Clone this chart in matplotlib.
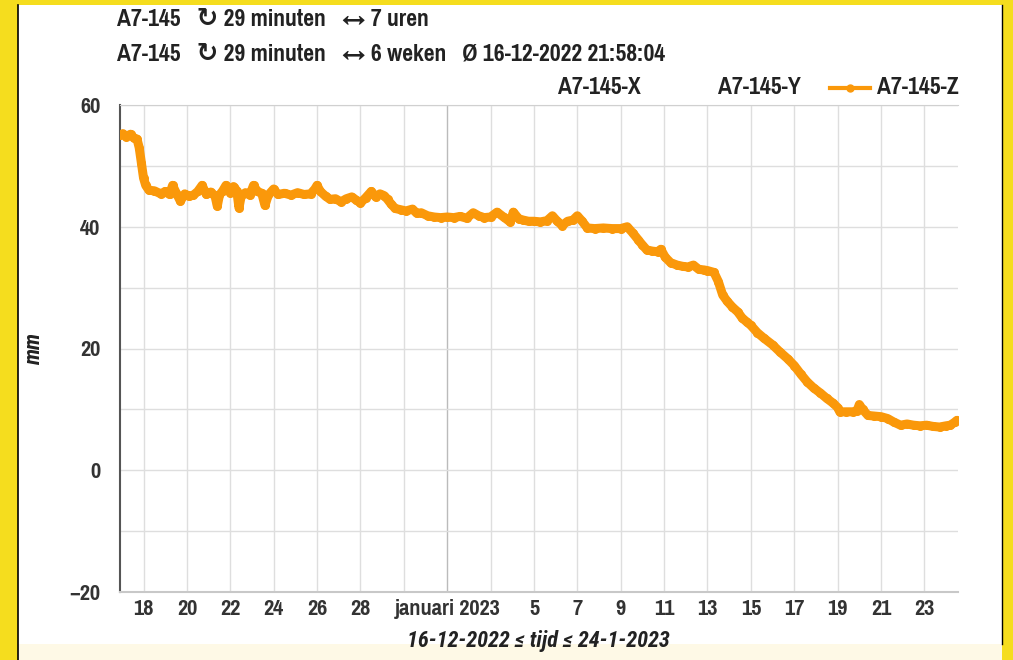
import matplotlib
matplotlib.use("Agg")
import matplotlib.pyplot as plt
from matplotlib.lines import Line2D
from matplotlib.patches import Rectangle

# ---- data: days since 2022-12-16 00:00, displacement in mm ----
days = [0.92, 1.05, 1.2, 1.4, 1.55, 1.7, 1.8, 1.9, 2.0, 2.1, 2.25, 2.5, 2.8, 3.0, 3.2, 3.34,
        3.5, 3.7, 3.9, 4.1, 4.3, 4.5, 4.7, 4.9, 5.1, 5.3, 5.4, 5.5, 5.65, 5.8, 6.0, 6.15,
        6.3, 6.4, 6.5, 6.7, 6.9, 7.07, 7.25, 7.45, 7.6, 7.75, 8.0, 8.2, 8.5, 8.8, 9.1, 9.4,
        9.7, 9.9, 10.0, 10.15, 10.4, 10.6, 10.85, 11.1, 11.35, 11.6, 11.8, 12.0, 12.25, 12.5,
        12.7, 12.9, 13.1, 13.25, 13.4, 13.6, 13.85, 14.1, 14.4, 14.6, 14.8, 15.1, 15.4, 15.7,
        16.0, 16.3, 16.6, 16.9, 17.2, 17.45, 17.7, 18.0, 18.3, 18.6, 18.9, 19.05, 19.3, 19.5,
        19.75, 20.0, 20.3, 20.6, 20.85, 21.05, 21.3, 21.55, 21.8, 22.0, 22.2, 22.46, 22.8, 23.2,
        23.6, 24.0, 24.3, 24.55, 24.8, 25.0, 25.2, 25.45, 25.7, 25.85, 26.05, 26.3, 26.6, 26.85,
        27.1, 27.35, 27.6, 27.85, 28.0, 28.3, 28.5, 28.7, 28.9, 29.15, 29.4, 29.6, 29.8, 30.0,
        30.3, 30.6, 31.0, 31.35, 31.7, 32.0, 32.3, 32.6, 32.9, 33.2, 33.5, 33.8, 34.0, 34.1,
        34.4, 34.7, 34.9, 35.0, 35.15, 35.4, 35.7, 36.0, 36.3, 36.6, 36.9, 37.2, 37.5, 37.8,
        38.1, 38.4, 38.7, 39.0, 39.2, 39.4, 39.5]
z_mm = [55.0, 55.3, 54.8, 55.2, 54.6, 54.4, 53.0, 50.5, 48.0, 46.8, 46.0, 45.9, 45.4, 45.8, 45.3, 46.8,
        45.6, 44.2, 45.4, 45.0, 45.2, 45.8, 46.8, 45.3, 45.7, 45.0, 43.4, 45.2, 45.9, 46.8, 45.6, 46.6,
        45.9, 43.1, 45.0, 45.6, 45.2, 46.8, 45.8, 45.5, 43.5, 45.2, 46.2, 45.3, 45.5, 45.2, 45.6, 45.3,
        45.4, 46.2, 46.8, 45.8, 45.0, 44.5, 44.6, 44.1, 44.6, 44.9, 44.4, 43.9, 44.8, 45.8,
        44.9, 45.4, 45.1, 44.5, 43.8, 43.0, 42.8, 42.6, 42.9, 42.2, 42.3, 41.8, 41.6, 41.5,
        41.6, 41.5, 41.7, 41.4, 42.3, 41.8, 41.5, 41.6, 42.4, 41.6, 40.8, 42.4, 41.3, 41.1,
        40.9, 40.9, 40.8, 41.0, 41.8, 41.0, 40.2, 40.9, 41.1, 41.8, 41.0, 39.8, 39.7, 39.8,
        39.7, 39.7, 40.0, 39.0, 37.9, 37.0, 36.2, 36.0, 35.9, 36.3, 35.0, 34.1, 33.7, 33.5,
        33.4, 33.7, 33.0, 32.9, 32.8, 32.5, 31.0, 28.8, 27.8, 26.8, 26.0, 25.0, 24.4, 23.8,
        22.6, 21.7, 20.6, 19.4, 18.3, 17.2, 15.8, 14.5, 13.5, 12.7, 11.8, 11.0, 10.3, 9.6,
        9.6, 9.6, 9.8, 10.8, 10.0, 9.0, 8.9, 8.8, 8.5, 7.9, 7.4, 7.6, 7.4, 7.3,
        7.4, 7.2, 7.1, 7.3, 7.4, 7.9, 8.2]

grid_days = [2, 4, 6, 8, 10, 12, 14, 16, 18, 20, 22, 24, 26, 28, 30, 32, 34, 36, 38]
tick_labels = ["18", "20", "22", "24", "26", "28", "", "januari 2023", "", "5", "7", "9",
               "11", "13", "15", "17", "19", "21", "23"]
y_ticks = [-20, 0, 20, 40, 60]
x_start, x_end = 0.915, 39.55

title1 = "A7-145   \u21bb 29 minuten   \u2194 7 uren"
title2 = "A7-145   \u21bb 29 minuten   \u2194 6 weken   \u00d8 16-12-2022 21:58:04"
series_names = ["A7-145-X", "A7-145-Y", "A7-145-Z"]
xlabel = "16-12-2022 \u2264 tijd \u2264 24-1-2023"

ORANGE = "#FA980A"
TXT = "#222222"
FAM = ["Pragati Narrow", "DejaVu Sans"]
FAM_IT = ["Roboto Condensed", "DejaVu Sans"]
plt.rcParams["font.family"] = FAM
plt.rcParams["font.weight"] = "bold"

W, H = 1013, 660
fig = plt.figure(figsize=(W / 100, H / 100), dpi=100)
fig.patch.set_facecolor("#F5DD1E")

# white panel with border
fig.add_artist(Rectangle((18 / W, 0), (1002 - 18) / W, 1 - 5 / H, transform=fig.transFigure,
                         facecolor="white", edgecolor="none", zorder=-10))
fig.add_artist(Rectangle((18 / W, 0), (1002 - 18) / W, 16 / H, transform=fig.transFigure,
                         facecolor="#FEF9E6", edgecolor="none", zorder=-9))
fig.add_artist(Line2D([18 / W, 18 / W], [0, 1 - 5 / H], transform=fig.transFigure, color="black", lw=1.2))
fig.add_artist(Line2D([1002 / W, 1002 / W], [16 / H, 1 - 5 / H], transform=fig.transFigure, color="black", lw=1.0))

ax = fig.add_axes([120 / W, 1 - 592 / H, (958 - 120) / W, (592 - 105) / H])
ax.set_facecolor("white")

ax.plot(days, z_mm, color=ORANGE, lw=6.5, marker="o", ms=5.5, mec=ORANGE, mfc=ORANGE,
        solid_joinstyle="round", solid_capstyle="round", zorder=3)

ax.set_xlim(x_start, x_end)
ax.set_ylim(-20, 60)
ax.set_xticks(grid_days)
ax.set_xticklabels(tick_labels)
ax.set_yticks(y_ticks)
ax.set_yticks([-10, 10, 30, 50], minor=True)
ax.grid(True, which="both", color="#DEDEDE", lw=1.0, zorder=0)
ax.get_xgridlines()[7].set_color("#BBBBBB")

ax.spines["right"].set_visible(False)
ax.spines["top"].set_color("#D0D0D0")
ax.spines["bottom"].set_color("#C8C8C8")
ax.spines["bottom"].set_linewidth(1.5)
ax.spines["left"].set_color("#555555")
ax.spines["left"].set_linewidth(1.5)

ax.tick_params(axis="x", length=0, pad=5, labelsize=17.5, labelcolor="#333333")
ax.tick_params(axis="y", which="both", length=0, pad=14, labelsize=17.5, labelcolor="#333333")
for lab in ax.get_xticklabels() + ax.get_yticklabels():
    lab.set_fontweight("bold")

ax.set_ylabel("mm", fontsize=16, style="italic", fontweight="bold", color=TXT, family=FAM_IT)
ax.yaxis.set_label_coords((45 - 120) / (958 - 120), (592 - 349) / (592 - 105))

fig.text(538 / W, 1 - 641 / H, xlabel, ha="center", va="center", fontsize=16, style="italic",
         fontweight="bold", color=TXT, family=FAM_IT)
fig.text(117 / W, 1 - 20 / H, title1, ha="left", va="center", fontsize=18.5, fontweight="bold", color=TXT)
fig.text(117 / W, 1 - 54 / H, title2, ha="left", va="center", fontsize=18.5, fontweight="bold", color=TXT)

ly = 1 - 88 / H
fig.text(558 / W, ly, series_names[0], ha="left", va="center", fontsize=18.5, fontweight="bold", color=TXT)
fig.text(718 / W, ly, series_names[1], ha="left", va="center", fontsize=18.5, fontweight="bold", color=TXT)
fig.add_artist(Line2D([830 / W, 850 / W, 870 / W], [ly, ly, ly], transform=fig.transFigure,
                      color=ORANGE, lw=3, marker="o", ms=5, markevery=[1]))
fig.text(877 / W, ly, series_names[2], ha="left", va="center", fontsize=18.5, fontweight="bold", color=TXT)

fig.savefig("out.png", dpi=100, facecolor=fig.get_facecolor())
